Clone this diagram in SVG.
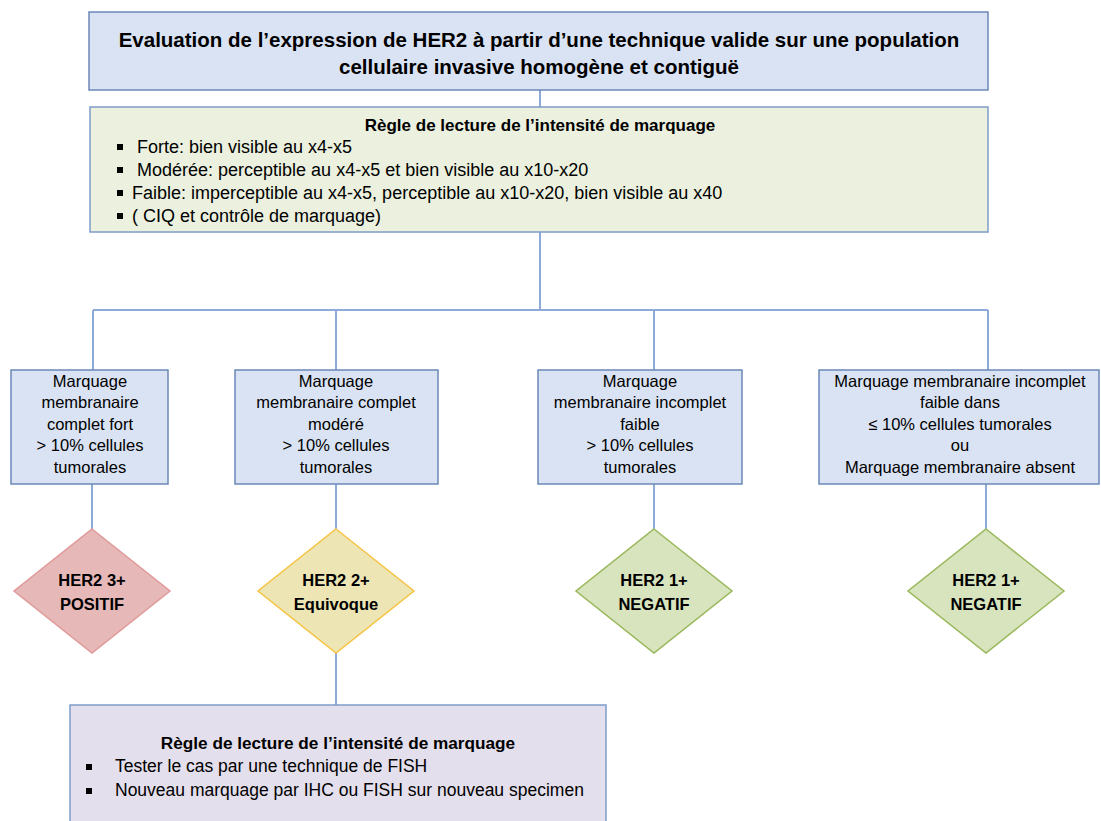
<svg xmlns="http://www.w3.org/2000/svg" width="1101" height="821" viewBox="0 0 1101 821">
<style>
text{font-family:"Liberation Sans",Arial,sans-serif;fill:#000}
.b{font-weight:bold}
.c{text-anchor:middle}
.box{fill:#dae3f3;stroke:#6b88b8;stroke-width:1.5}
.conn{stroke:#8eaad8;stroke-width:2;fill:none}
.t{font-size:16.5px}
.s{font-size:17.5px}
.g{font-size:18px}
.bul{fill:#000}
</style>
<rect width="1101" height="821" fill="#fff"/>
<g id="connectors">
<path class="conn" d="M540 90V107M540 232V310M93 310H988M93 310V370M336 310V370M654 310V370M988 310V370M92 484V529M336 484V529M654 484V529M986 484V529M336 653V705"/>
</g>
<g id="n-top">
<rect class="box" x="89" y="12" width="899" height="78"/>
<text class="b c" x="539" y="47" font-size="20.5">Evaluation de l’expression de HER2 à partir d’une technique valide sur une population</text>
<text class="b c" x="539" y="74" font-size="20.5">cellulaire invasive homogène et contiguë</text>
</g>
<g id="n-rule">
<rect x="90" y="107" width="898" height="125" fill="#ebf1de" stroke="#7f9cc9" stroke-width="1.5"/>
<text class="b c" x="540" y="131" font-size="17">Règle de lecture de l’intensité de marquage</text>
<rect class="bul" x="117" y="144" width="6" height="6"/>
<rect class="bul" x="117" y="167" width="6" height="6"/>
<rect class="bul" x="117" y="190" width="6" height="6"/>
<rect class="bul" x="117" y="213" width="6" height="6"/>
<text class="g" x="137" y="153">Forte: bien visible au x4-x5</text>
<text class="g" x="137" y="176">Modérée: perceptible au x4-x5 et bien visible au x10-x20</text>
<text class="g" x="132" y="199">Faible: imperceptible au x4-x5, perceptible au x10-x20, bien visible au x40</text>
<text class="g" x="132" y="222">( CIQ et contrôle de marquage)</text>
</g>
<g id="n-b1">
<rect class="box" x="11" y="370" width="157" height="114"/>
<text class="c t" x="90" y="387">Marquage</text>
<text class="c t" x="90" y="408">membranaire</text>
<text class="c t" x="90" y="430">complet fort</text>
<text class="c t" x="90" y="451">&gt; 10% cellules</text>
<text class="c t" x="90" y="473">tumorales</text>
</g>
<g id="n-b2">
<rect class="box" x="235" y="370" width="203" height="114"/>
<text class="c t" x="336" y="387">Marquage</text>
<text class="c t" x="336" y="408">membranaire complet</text>
<text class="c t" x="336" y="430">modéré</text>
<text class="c t" x="336" y="451">&gt; 10% cellules</text>
<text class="c t" x="336" y="473">tumorales</text>
</g>
<g id="n-b3">
<rect class="box" x="538" y="370" width="204" height="114"/>
<text class="c t" x="640" y="387">Marquage</text>
<text class="c t" x="640" y="408">membranaire incomplet</text>
<text class="c t" x="640" y="430">faible</text>
<text class="c t" x="640" y="451">&gt; 10% cellules</text>
<text class="c t" x="640" y="473">tumorales</text>
</g>
<g id="n-b4">
<rect class="box" x="819" y="370" width="280" height="114"/>
<text class="c t" x="960" y="387">Marquage membranaire incomplet</text>
<text class="c t" x="960" y="408">faible dans</text>
<text class="c t" x="960" y="430">≤ 10% cellules tumorales</text>
<text class="c t" x="960" y="451">ou</text>
<text class="c t" x="960" y="473">Marquage membranaire absent</text>
</g>
<g id="n-d1">
<polygon points="92,529 170,591 92,653 14,591" fill="#e6b8b7" stroke="#e09a99" stroke-width="1.5"/>
<text class="b c t" x="92" y="586">HER2 3+</text>
<text class="b c t" x="92" y="610">POSITIF</text>
</g>
<g id="n-d2">
<polygon points="336,529 414,591 336,653 258,591" fill="#ede5b3" stroke="#f6c444" stroke-width="1.5"/>
<text class="b c t" x="336" y="586">HER2 2+</text>
<text class="b c t" x="336" y="610">Equivoque</text>
</g>
<g id="n-d3">
<polygon points="654,529 732,591 654,653 576,591" fill="#d7e4bd" stroke="#98b85a" stroke-width="1.5"/>
<text class="b c t" x="654" y="586">HER2 1+</text>
<text class="b c t" x="654" y="610">NEGATIF</text>
</g>
<g id="n-d4">
<polygon points="986,529 1064,591 986,653 908,591" fill="#d7e4bd" stroke="#98b85a" stroke-width="1.5"/>
<text class="b c t" x="986" y="586">HER2 1+</text>
<text class="b c t" x="986" y="610">NEGATIF</text>
</g>
<g id="n-fish">
<rect x="70" y="705" width="536" height="130" fill="#e4dfec" stroke="#7f9cc9" stroke-width="1.5"/>
<text class="b c" x="338" y="749" font-size="17.2">Règle de lecture de l’intensité de marquage</text>
<rect class="bul" x="86" y="764" width="6" height="6"/>
<rect class="bul" x="86" y="788" width="6" height="6"/>
<text class="s" x="115" y="772">Tester le cas par une technique de FISH</text>
<text class="s" x="115" y="796">Nouveau marquage par IHC ou FISH sur nouveau specimen</text>
</g>
</svg>
